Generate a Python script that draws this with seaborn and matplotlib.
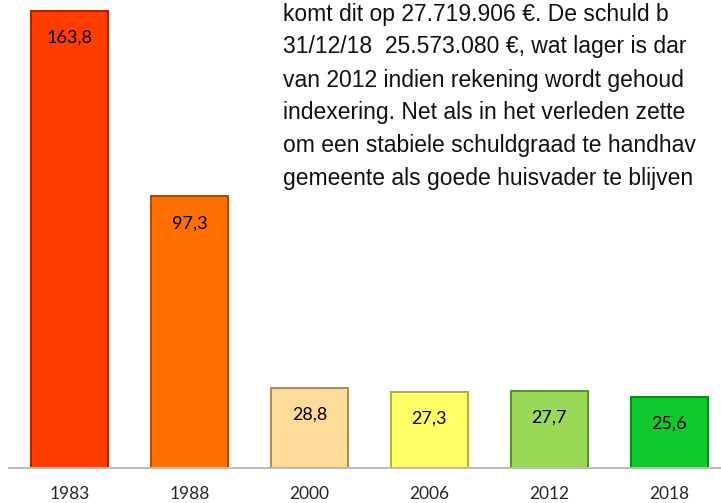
import pandas as pd
import matplotlib.pyplot as plt
import seaborn as sns

years = ['1983', '1988', '2000', '2006', '2012', '2018']
debt = [163.8, 97.3, 28.8, 27.3, 27.7, 25.6]
labels = ['163,8', '97,3', '28,8', '27,3', '27,7', '25,6']
colors = ['#FF3D00', '#FF6F00', '#FFDB9A', '#FFFF66', '#9AD957', '#10C92A']
edges = ['#A82800', '#B04C00', '#A8905E', '#B0B040', '#5E8F30', '#0A8A1C']

text_lines = [
    'komt dit op 27.719.906 €. De schuld b',
    '31/12/18  25.573.080 €, wat lager is dar',
    'van 2012 indien rekening wordt gehoud',
    'indexering. Net als in het verleden zette',
    'om een stabiele schuldgraad te handhav',
    'gemeente als goede huisvader te blijven',
]

sns.set_theme(style='white')
plt.rcParams['font.family'] = ['Lato', 'DejaVu Sans']

df = pd.DataFrame({'jaar': years, 'schuld': debt})

fig = plt.figure(figsize=(7.21, 5.03), dpi=100)
ax = fig.add_axes([0.0125, 0.0696, 0.9875, 0.9304])

sns.barplot(data=df, x='jaar', y='schuld', hue='jaar', palette=colors,
            legend=False, width=0.64, ax=ax, saturation=1)
for bar, ec in zip(ax.patches, edges):
    bar.set_edgecolor(ec)
    bar.set_linewidth(1.5)

for i, (v, lab) in enumerate(zip(debt, labels)):
    ax.annotate(lab, (i, v), xytext=(0, -19.5), textcoords='offset points',
                ha='center', va='center', fontsize=13, color='black')

ax.set_xlim(-0.504, 5.43)
ax.set_ylim(0, 167.6)
ax.set_xlabel('')
ax.set_ylabel('')
ax.set_yticks([])
ax.tick_params(axis='x', length=0, pad=13, labelsize=12.5)
for s in ['top', 'left', 'right']:
    ax.spines[s].set_visible(False)
ax.spines['bottom'].set_color('#BBBBBB')
ax.spines['bottom'].set_linewidth(1.5)

for k, line in enumerate(text_lines):
    fig.text(283 / 721, 1 - (14 + 33 * k) / 503, line, ha='left', va='center',
             fontsize=16.5, family=['Liberation Sans', 'DejaVu Sans'], color='#111111')

fig.savefig('out.png', dpi=100)
